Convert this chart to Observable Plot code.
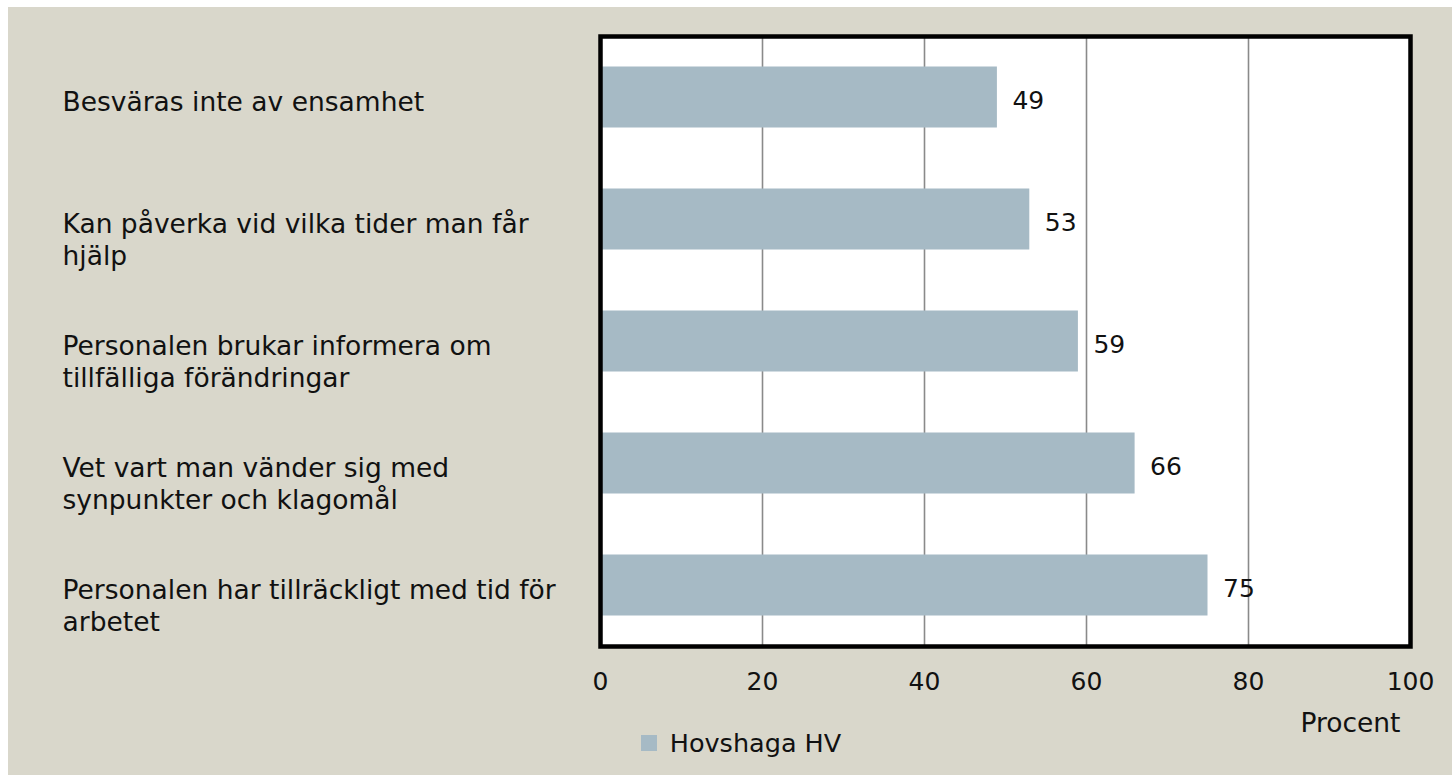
<!DOCTYPE html>
<html>
<head>
<meta charset="utf-8">
<script src="https://cdn.jsdelivr.net/npm/d3@7"></script>
<script src="https://cdn.jsdelivr.net/npm/@observablehq/plot@0.6"></script>
<style>
  html, body { margin: 0; padding: 0; background: #ffffff; }
  #wrap { position: relative; width: 1452px; height: 775px; }
  #legend { position: absolute; left: 641px; top: 726px; }
</style>
</head>
<body>
<div id="wrap"></div>
<script>
const categories = [
  "Besväras inte av ensamhet",
  "Kan påverka vid vilka tider man får\nhjälp",
  "Personalen brukar informera om\ntillfälliga förändringar",
  "Vet vart man vänder sig med\nsynpunkter och klagomål",
  "Personalen har tillräckligt med tid för\narbetet"
];
const values = [49, 53, 59, 66, 75];
const xTicks = [0, 20, 40, 60, 80, 100];
const gridTicks = [20, 40, 60, 80];
const seriesName = "Hovshaga HV";
const axisTitle = "Procent";

const data = categories.map((c, i) => ({label: c, value: values[i]}));
const FONT = "'DejaVu Sans', sans-serif";
const BAR = "#a6bac5";

const chart = Plot.plot({
  width: 1452,
  height: 775,
  marginLeft: 600,
  marginRight: 42,
  marginTop: 36,
  marginBottom: 129,
  style: {
    background: "#d9d7cb",
    boxShadow: "inset 8px 7px 0 0 #ffffff",
    fontFamily: FONT,
    color: "#111",
    overflow: "visible"
  },
  x: {domain: [0, 100]},
  y: {domain: categories, paddingInner: 0.5, paddingOuter: 0.25, round: false},
  marks: [
    Plot.frame({fill: "#ffffff", stroke: null}),
    Plot.ruleX(gridTicks, {stroke: "#8a8a8a", strokeWidth: 1.6}),
    Plot.barX(data, {x: "value", y: "label", fill: BAR}),
    Plot.text(data, {x: "value", y: "label", text: d => String(d.value), textAnchor: "start", dx: 15, dy: 3, fontSize: 25, fill: "#111"}),
    Plot.text(categories, {y: d => d, text: d => d, frameAnchor: "left", textAnchor: "start", dx: -538, lineAnchor: "top", dy: -9, fontSize: 26.5, lineHeight: 1.21, fill: "#111"}),
    Plot.axisX({ticks: xTicks, tickSize: 0, tickPadding: 26, fontSize: 25, label: null}),
    Plot.axisY({ticks: [], label: null}),
    Plot.text([axisTitle], {text: d => d, frameAnchor: "bottom-right", textAnchor: "end", dx: -10, dy: 85, fontSize: 26.5, fill: "#111"}),
    Plot.frame({stroke: "#000000", strokeWidth: 4.5})
  ]
});
document.getElementById("wrap").appendChild(chart);

const legend = Plot.legend({
  color: {domain: [seriesName], range: [BAR]},
  legend: "swatches",
  swatchSize: 16,
  style: {fontFamily: FONT, fontSize: "25.5px", color: "#111", background: "transparent"}
});
const ld = document.createElement("div");
ld.id = "legend";
ld.appendChild(legend);
document.getElementById("wrap").appendChild(ld);
</script>
</body>
</html>
